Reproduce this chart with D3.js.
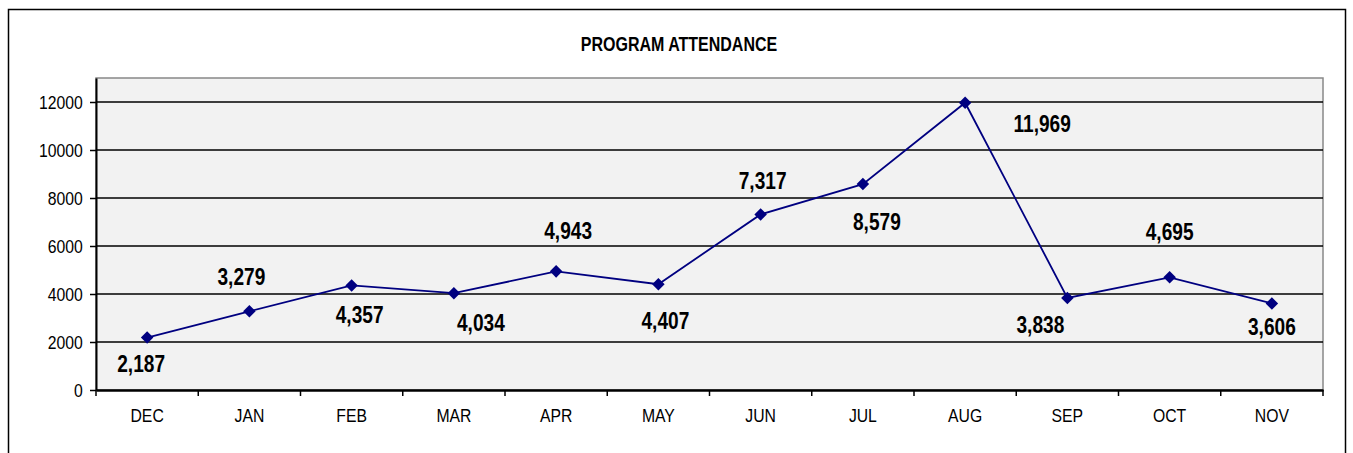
<!DOCTYPE html>
<html>
<head>
<meta charset="utf-8">
<script src="https://cdn.jsdelivr.net/npm/d3@7"></script>
<style>
  body { margin: 0; background: #fff; }
  text { font-family: "Liberation Sans Narrow", "Arial Narrow", "Liberation Sans", sans-serif; }
</style>
</head>
<body>
<div id="chart"></div>
<script>
// data
var months = ["DEC", "JAN", "FEB", "MAR", "APR", "MAY", "JUN", "JUL", "AUG", "SEP", "OCT", "NOV"];
var attendance = [2187, 3279, 4357, 4034, 4943, 4407, 7317, 8579, 11969, 3838, 4695, 3606];
var yTicks = [0, 2000, 4000, 6000, 8000, 10000, 12000];

// where each value label sits relative to its point (dx, dy)
var labelOffsets = [[-6, 26], [-8, -34], [8, 30], [27, 30], [12, -40], [7, 37],
                    [2, -33], [14, 38], [77, 21], [-27, 27], [0, -45], [0, 23]];

// no narrow font installed, so squeeze the text horizontally
var narrow = 0.83;

var W = 1353, H = 453;
var margin = { top: 78, right: 30, bottom: 63, left: 96 },
    width = W - margin.left - margin.right,
    height = H - margin.top - margin.bottom;

var svg = d3.select("#chart").append("svg")
    .attr("width", W)
    .attr("height", H);

// outer chart border
svg.append("rect")
    .attr("x", 8.5).attr("y", 9.5)
    .attr("width", 1337).attr("height", 470)
    .style("fill", "none")
    .style("stroke", "#000")
    .style("stroke-width", "1.5px");

svg.append("text")
    .attr("transform", "translate(679,51) scale(0.8,1)")
    .style("text-anchor", "middle")
    .style("font-weight", "bold")
    .style("font-size", "20px")
    .text("PROGRAM ATTENDANCE");

var g = svg.append("g")
    .attr("transform", "translate(" + margin.left + "," + margin.top + ")");

var x = d3.scaleBand().domain(months).range([0, width]);
var y = d3.scaleLinear().domain([0, 13000]).range([height, 0]);

// plot area
g.append("rect")
    .attr("width", width).attr("height", height)
    .style("fill", "#f2f2f2")
    .style("stroke", "#888")
    .style("stroke-width", "1.5px");

// gridlines
g.append("g")
    .selectAll("line")
    .data(yTicks.slice(1))
    .enter().append("line")
    .attr("x1", 0).attr("x2", width)
    .attr("y1", function (d) { return y(d); })
    .attr("y2", function (d) { return y(d); })
    .style("stroke", "#000")
    .style("stroke-width", "1.6px");

// y axis
var yAxis = g.append("g")
    .call(d3.axisLeft(y).tickValues(yTicks).tickSizeInner(6).tickSizeOuter(0)
        .tickPadding(10).tickFormat(d3.format("d")));
yAxis.select(".domain").style("stroke-width", "2px");
yAxis.selectAll(".tick line").style("stroke-width", "1.5px");
yAxis.selectAll("text")
    .style("font-size", "19px").style("font-family", null)
    .attr("transform", "scale(" + narrow + ",1)");

// x axis with ticks between categories
var xAxis = g.append("g")
    .attr("transform", "translate(0," + height + ")")
    .call(d3.axisBottom(x).tickSize(0).tickPadding(19));
xAxis.select(".domain").style("stroke-width", "2.5px");
xAxis.selectAll("text")
    .style("font-size", "19px").style("font-family", null)
    .attr("transform", "scale(" + narrow + ",1)");
g.append("g")
    .selectAll("line")
    .data(months.concat([null]))
    .enter().append("line")
    .attr("x1", function (d) { return d ? x(d) : width; })
    .attr("x2", function (d) { return d ? x(d) : width; })
    .attr("y1", height).attr("y2", height + 6)
    .style("stroke", "#000")
    .style("stroke-width", "1.5px");

var cx = function (i) { return x(months[i]) + x.bandwidth() / 2; };

var line = d3.line()
    .x(function (d, i) { return cx(i); })
    .y(function (d) { return y(d); });

g.append("path")
    .datum(attendance)
    .attr("d", line)
    .style("fill", "none")
    .style("stroke", "#000080")
    .style("stroke-width", "1.8px");

g.selectAll(".dot")
    .data(attendance)
    .enter().append("path")
    .attr("class", "dot")
    .attr("d", d3.symbol().type(d3.symbolDiamond2).size(100))
    .attr("transform", function (d, i) { return "translate(" + cx(i) + "," + y(d) + ")"; })
    .style("fill", "#000080");

g.selectAll(".val")
    .data(attendance)
    .enter().append("text")
    .attr("class", "val")
    .attr("transform", function (d, i) {
        return "translate(" + (cx(i) + labelOffsets[i][0]) + "," + (y(d) + labelOffsets[i][1]) + ") scale(" + narrow + ",1)";
    })
    .attr("dy", "0.35em")
    .style("text-anchor", "middle")
    .style("font-weight", "bold")
    .style("font-size", "23px")
    .text(function (d) { return d3.format(",")(d); });
</script>
</body>
</html>
